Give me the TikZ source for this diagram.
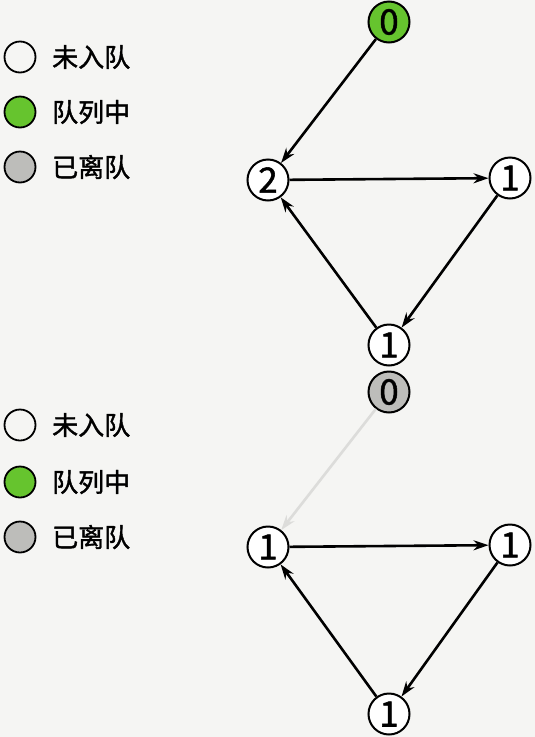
\documentclass[tikz,border=0pt]{standalone}
\usepackage{fontspec}
\setmainfont{Noto Sans CJK SC}[FakeBold=1.5]
\usetikzlibrary{arrows.meta}
\definecolor{paper}{HTML}{F5F5F3}
\definecolor{queued}{HTML}{66C42E}
\definecolor{left}{HTML}{BDBDBA}
\definecolor{faded}{HTML}{DCDCDA}
\begin{document}
\begin{tikzpicture}[x=1pt, y=-1pt,
        vertex/.style={circle, draw, line width=2pt, fill=white, minimum size=41pt, inner sep=0pt, font=\fontsize{35}{35}\selectfont},
        legend/.style={circle, draw, line width=1.8pt, minimum size=31pt, inner sep=0pt},
        label/.style={right, inner sep=0pt, font=\fontsize{26}{26}\selectfont},
        arc/.style={line width=2.6pt, -{Stealth[length=15pt, width=10pt]}}]
        \fill[paper] (0,0) rectangle (535,737);
        \useasboundingbox (0,0) rectangle (535,737);
        % top panel
        \node(la) at (20, 57) [legend]              {};
        \node(lb) at (20,112) [legend, fill=queued] {};
        \node(lc) at (20,167) [legend, fill=left]   {};
        \node at (52, 57) [label] {未入队};
        \node at (52,112) [label] {队列中};
        \node at (52,167) [label] {已离队};
        \node(a0) at (389, 22) [vertex, fill=queued] {0};
        \node(a1) at (268,180) [vertex] {2};
        \node(a2) at (510,178) [vertex] {1};
        \node(a3) at (389,345) [vertex] {1};
        \draw[arc] (a0) -- (a1);
        \draw[arc] (a1) -- (a2);
        \draw[arc] (a2) -- (a3);
        \draw[arc] (a3) -- (a1);
        % bottom panel
        \node(ma) at (20,425) [legend]              {};
        \node(mb) at (20,482) [legend, fill=queued] {};
        \node(mc) at (20,537) [legend, fill=left]   {};
        \node at (52,425) [label] {未入队};
        \node at (52,482) [label] {队列中};
        \node at (52,537) [label] {已离队};
        \node(b0) at (389,392) [vertex, fill=left] {0};
        \node(b1) at (268,547) [vertex] {1};
        \node(b2) at (510,545) [vertex] {1};
        \node(b3) at (389,714) [vertex] {1};
        \draw[arc, faded] (b0) -- (b1);
        \draw[arc] (b1) -- (b2);
        \draw[arc] (b2) -- (b3);
        \draw[arc] (b3) -- (b1);
    \end{tikzpicture}
\end{document}
